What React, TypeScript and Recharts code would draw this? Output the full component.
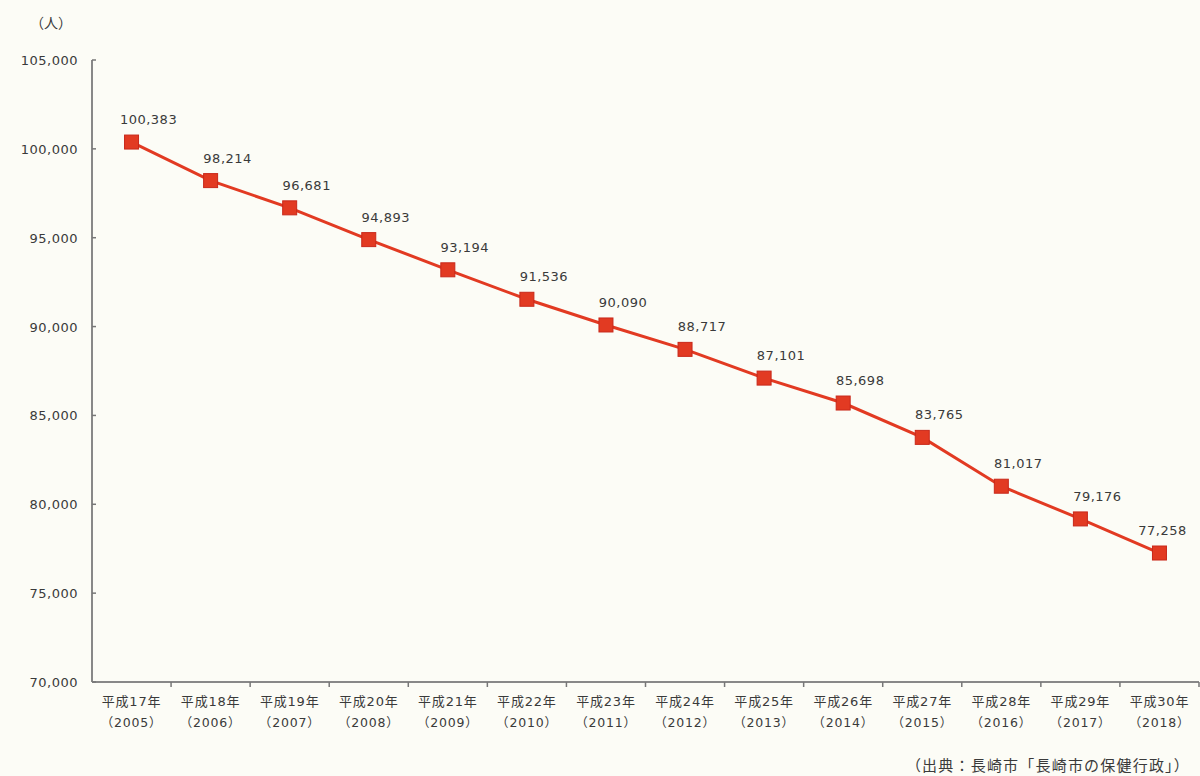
import React from "react";
import { LineChart, Line, XAxis, YAxis, LabelList } from "recharts";

const eras = ["平成17年","平成18年","平成19年","平成20年","平成21年","平成22年","平成23年","平成24年","平成25年","平成26年","平成27年","平成28年","平成29年","平成30年"];
const years = ["2005","2006","2007","2008","2009","2010","2011","2012","2013","2014","2015","2016","2017","2018"];
const population = [100383,98214,96681,94893,93194,91536,90090,88717,87101,85698,83765,81017,79176,77258];
const yTicks = [70000,75000,80000,85000,90000,95000,100000,105000];

const data = eras.map((e, i) => ({ era: e, year: years[i], value: population[i] }));

const W = 1200, H = 776;
const M = { top: 60, right: 1, bottom: 34, left: 0 };
const YW = 92;
const PLOT_W = W - M.left - M.right - YW;
const BAND = PLOT_W / data.length;
const FONT = "'DejaVu Sans', 'Noto Sans CJK JP', sans-serif";
const CJK = "'Noto Sans CJK JP', sans-serif";
const TXT = "#3a3a3a";
const RED = "#e23a22";

const fmt = (v: number) => v.toLocaleString("en-US");

const XTick = (props: any) => {
  const { x, y, payload, index } = props;
  const d = data[payload.index ?? index];
  return (
    <g>
      <line x1={x + BAND / 2} x2={x + BAND / 2} y1={y - 8} y2={y - 3} stroke="#777" strokeWidth={1.5} />
      <text x={x} y={y + 16} textAnchor="middle" fontSize={13} letterSpacing={0.8} fill={TXT} fontFamily={FONT}>{d ? d.era : ""}</text>
      <text x={x} y={y + 37} textAnchor="middle" fontSize={12.5} letterSpacing={0.8} fill={TXT} fontFamily={FONT}>{d ? `（${d.year}）` : ""}</text>
    </g>
  );
};

const YTick = (props: any) => {
  const { x, y, payload } = props;
  return (
    <g>
      <line x1={YW} x2={YW + 4} y1={y} y2={y} stroke="#777" strokeWidth={1.5} />
      <text x={x - 6} y={y + 5} textAnchor="end" fontSize={13} letterSpacing={0.5} fill={TXT} fontFamily={FONT}>{fmt(payload.value)}</text>
    </g>
  );
};

const SquareDot = (props: any) => {
  const { cx, cy } = props;
  if (cx == null || cy == null) return null;
  return <rect x={cx - 7} y={cy - 7} width={14} height={14} fill={RED} stroke="#c8281a" strokeWidth={1} />;
};

const ValueLabel = (props: any) => {
  const { x, y, value, index } = props;
  const dx = index === data.length - 1 ? 3 : 17;
  return (
    <text x={x + dx} y={y - 18} textAnchor="middle" fontSize={13} letterSpacing={0.5} fill={TXT} fontFamily={FONT}>{fmt(value)}</text>
  );
};

export default function App() {
  return (
    <div style={{ position: "absolute", left: 0, top: 0, width: W, height: H, background: "#fcfcf6" }}>
      <LineChart width={W} height={H} data={data} margin={M}>
        <XAxis
          dataKey="era"
          height={60}
          padding={{ left: BAND / 2, right: BAND / 2 }}
          axisLine={{ stroke: "#888", strokeWidth: 2 }}
          tickLine={false}
          tick={<XTick />}
          interval={0}
        />
        <YAxis
          width={YW}
          domain={[70000, 105000]}
          ticks={yTicks}
          axisLine={{ stroke: "#888", strokeWidth: 2 }}
          tickLine={false}
          tick={<YTick />}
          interval={0}
        />
        <Line
          type="linear"
          dataKey="value"
          stroke={RED}
          strokeWidth={3}
          dot={<SquareDot />}
          activeDot={false}
          isAnimationActive={false}
        >
          <LabelList dataKey="value" content={<ValueLabel />} />
        </Line>
      </LineChart>
      <div style={{ position: "absolute", left: 30, top: 12, fontSize: 14, color: TXT, fontFamily: CJK }}>（人）</div>
      <div style={{ position: "absolute", right: 10, top: 754, fontSize: 15, letterSpacing: 1.2, color: TXT, fontFamily: CJK }}>（出典：長崎市「長崎市の保健行政」）</div>
    </div>
  );
}
